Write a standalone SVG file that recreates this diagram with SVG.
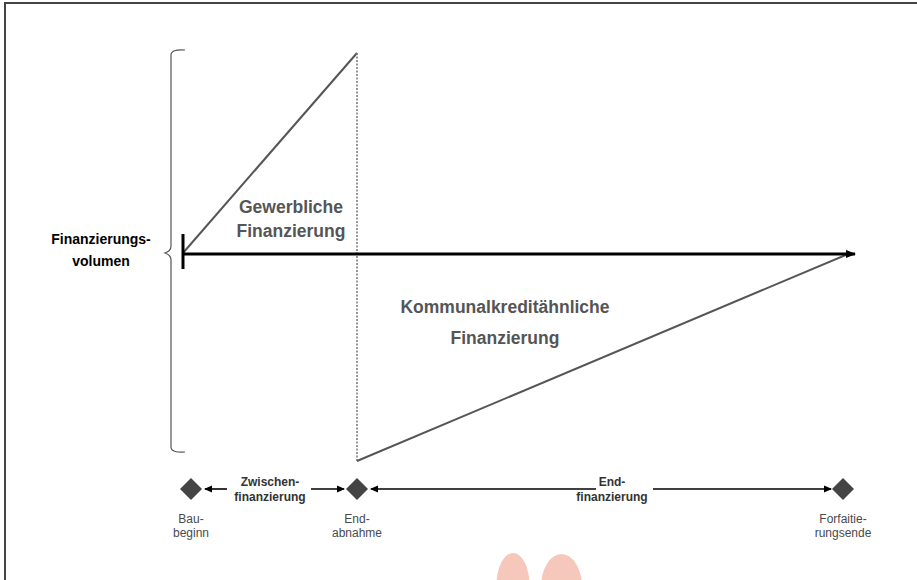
<svg xmlns="http://www.w3.org/2000/svg" width="917" height="580" viewBox="0 0 917 580">
<style>
.bold{font-family:"Liberation Sans",Arial,sans-serif;font-weight:bold}
.reg{font-family:"Liberation Sans",Arial,sans-serif;font-size:12px;fill:#4a4a4a;text-anchor:middle}
.big{font-size:17.5px;fill:#555;text-anchor:middle}
.small{font-size:12px;fill:#333;text-anchor:middle}
.tl{stroke:#000;stroke-width:1.6;fill:none}
.dia{fill:#444}
</style>
<defs>
<marker id="ah" markerWidth="8" markerHeight="8" refX="7" refY="4" orient="auto" markerUnits="userSpaceOnUse">
<path d="M0,0.5 L8,4 L0,7.5 Z" fill="#000"/>
</marker>
<marker id="ahBig" markerWidth="10" markerHeight="10" refX="9" refY="5" orient="auto" markerUnits="userSpaceOnUse">
<path d="M0,1 L10,5 L0,9 Z" fill="#000"/>
</marker>
</defs>
<rect width="917" height="580" fill="#fff"/>
<path d="M5,580 V3 H917" fill="none" stroke="#444" stroke-width="2"/>
<g id="shapes">
<path d="M185,50 Q171,49 171,55 V246 Q171,251 165,253 Q171,255 171,260 V447 Q171,453 185,452" fill="none" stroke="#555" stroke-width="1.2"/>
<line x1="183" y1="253" x2="357" y2="53" stroke="#555" stroke-width="2"/>
<line x1="357" y1="53" x2="357" y2="461" stroke="#777" stroke-width="1.5" stroke-dasharray="2,1.5"/>
<line x1="357" y1="461" x2="848" y2="254" stroke="#555" stroke-width="2"/>
</g>
<g id="connectors">
<line x1="183" y1="234" x2="183" y2="269" stroke="#000" stroke-width="3"/>
<line x1="183" y1="254" x2="855" y2="254" stroke="#000" stroke-width="3" marker-end="url(#ahBig)"/>
<line x1="227" y1="489" x2="205" y2="489" class="tl" marker-end="url(#ah)"/>
<line x1="311" y1="489" x2="344" y2="489" class="tl" marker-end="url(#ah)"/>
<line x1="596" y1="489" x2="371" y2="489" class="tl" marker-end="url(#ah)"/>
<line x1="653" y1="489" x2="831" y2="489" class="tl" marker-end="url(#ah)"/>
</g>
<g id="label-volumen">
<text class="bold" font-size="14" text-anchor="middle" x="101" y="244">Finanzierungs-</text>
<text class="bold" font-size="14" text-anchor="middle" x="101" y="266">volumen</text>
</g>
<g id="label-gewerblich">
<text class="bold big" x="291" y="213">Gewerbliche</text>
<text class="bold big" x="291" y="237">Finanzierung</text>
</g>
<g id="label-kommunal">
<text class="bold big" x="505" y="313">Kommunalkreditähnliche</text>
<text class="bold big" x="505" y="344">Finanzierung</text>
</g>
<g id="node-baubeginn">
<path class="dia" d="M191,478 L202,489 L191,500 L180,489 Z"/>
<text class="reg" x="191" y="523">Bau-</text>
<text class="reg" x="191" y="537">beginn</text>
</g>
<g id="node-endabnahme">
<path class="dia" d="M357,478 L368,489 L357,500 L346,489 Z"/>
<text class="reg" x="357" y="523">End-</text>
<text class="reg" x="357" y="537">abnahme</text>
</g>
<g id="node-forfaitierungsende">
<path class="dia" d="M843,478 L854,489 L843,500 L832,489 Z"/>
<text class="reg" x="843" y="523">Forfaitie-</text>
<text class="reg" x="843" y="537">rungsende</text>
</g>
<g id="label-zwischen">
<text class="bold small" x="270" y="486">Zwischen-</text>
<text class="bold small" x="270" y="501">finanzierung</text>
</g>
<g id="label-end">
<text class="bold small" x="612" y="486">End-</text>
<text class="bold small" x="612" y="501">finanzierung</text>
</g>
<g id="blobs">
<ellipse cx="513" cy="585" rx="16.5" ry="32" fill="#f5c8bb"/>
<ellipse cx="561.5" cy="587" rx="20.5" ry="33" fill="#f5c8bb"/>
</g>
</svg>
